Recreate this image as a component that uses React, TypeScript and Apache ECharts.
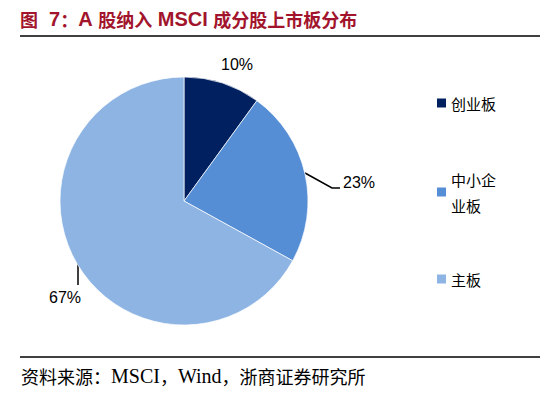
import React, { useEffect, useRef } from "react";
import * as echarts from "echarts";

const titleRich = "{c|图}{l|  7}{c|：}{l|A }{c|股纳入}{l| MSCI }{c|成分股上市板分布}";
const sourceRich = "{c|资料来源：}{l|MSCI}{c|，}{l|Wind}{c|，浙商证券研究所}";
const categories = ["创业板", "中小企业板", "主板"];
const legendLabels = ["创业板", "中小企\n业板", "主板"];
const values = [10, 23, 67];
const colors = ["#002060", "#558ed5", "#8db4e2"];

export default function App() {
  const ref = useRef<HTMLDivElement>(null);
  useEffect(() => {
    if (!ref.current) return;
    const chart = echarts.init(ref.current, undefined, { renderer: "svg" });
    const sans = "'Liberation Sans', Arial, 'Noto Sans CJK SC', sans-serif";
    const cjkFont = "'Noto Sans CJK SC', sans-serif";
    const serif = "'Liberation Serif', 'Noto Sans CJK SC', serif";
    const legendTops = [90, 153, 266];
    const labelPos = [
      { x: 237, y: 64, align: "center", line: null as any },
      { x: 343, y: 182, align: "left", line: [[305, 173], [332, 188], [340, 188]] },
      { x: 65, y: 297, align: "center", line: [[78, 263], [78, 285]] },
    ];
    const titleColor = "#a2142b";
    chart.setOption({
      animation: false,
      title: {
        text: titleRich,
        left: 20,
        top: 9,
        padding: 0,
        textStyle: {
          fontSize: 18,
          fontWeight: "bold",
          color: titleColor,
          fontFamily: sans,
          rich: {
            c: { fontSize: 18, fontWeight: "bold", color: titleColor, fontFamily: cjkFont },
            l: { fontSize: 20, fontWeight: "bold", color: titleColor, fontFamily: sans },
          },
        },
      },
      legend: categories.map((c, i) => ({
        data: [c],
        orient: "vertical",
        left: 437,
        top: legendTops[i],
        padding: 0,
        itemWidth: 9,
        itemHeight: 9,
        icon: "rect",
        selectedMode: false,
        itemStyle: { borderWidth: 0 },
        formatter: () => legendLabels[i],
        textStyle: {
          fontSize: 15,
          lineHeight: 26,
          color: "#000",
          fontFamily: cjkFont,
          padding: i === 1 ? [26, 0, 0, 0] : 0,
        },
      })),
      graphic: [
        { type: "line", shape: { x1: 20, y1: 36, x2: 540, y2: 36 }, style: { stroke: "#000", lineWidth: 1.5 } },
        { type: "line", shape: { x1: 20, y1: 357, x2: 540, y2: 357 }, style: { stroke: "#000", lineWidth: 1.5 } },
        {
          type: "text",
          x: 21,
          y: 376,
          style: {
            text: sourceRich,
            fontSize: 18,
            fill: "#000",
            fontFamily: serif,
            verticalAlign: "middle",
            rich: {
              c: { fontSize: 18, fill: "#000", fontFamily: cjkFont },
              l: { fontSize: 20, fill: "#000", fontFamily: serif },
            },
          },
        },
      ],
      series: [
        {
          type: "pie",
          center: [184, 201],
          radius: 124,
          startAngle: 90,
          clockwise: true,
          avoidLabelOverlap: false,
          itemStyle: { borderColor: "#fff", borderWidth: 0.7 },
          label: {
            show: true,
            position: "outside",
            formatter: (p: any) => p.value + "%",
            fontSize: 16,
            color: "#000",
            fontFamily: "'Liberation Sans', Arial, sans-serif",
          },
          labelLine: { show: true, lineStyle: { color: "#000", width: 1.5 } },
          labelLayout: (params: any) => {
            const lp = labelPos[params.dataIndex];
            const o: any = { x: lp.x, y: lp.y, align: lp.align, verticalAlign: "middle" };
            if (lp.line) o.labelLinePoints = lp.line;
            return o;
          },
          emphasis: { disabled: true },
          data: categories.map((c, i) => ({
            name: c,
            value: values[i],
            itemStyle: { color: colors[i] },
            labelLine: i === 0 ? { show: false } : undefined,
          })),
        },
      ],
    });
    return () => chart.dispose();
  }, []);
  return (
    <div
      ref={ref}
      style={{ position: "fixed", left: 0, top: 0, width: 550, height: 398, background: "#fff" }}
    />
  );
}
